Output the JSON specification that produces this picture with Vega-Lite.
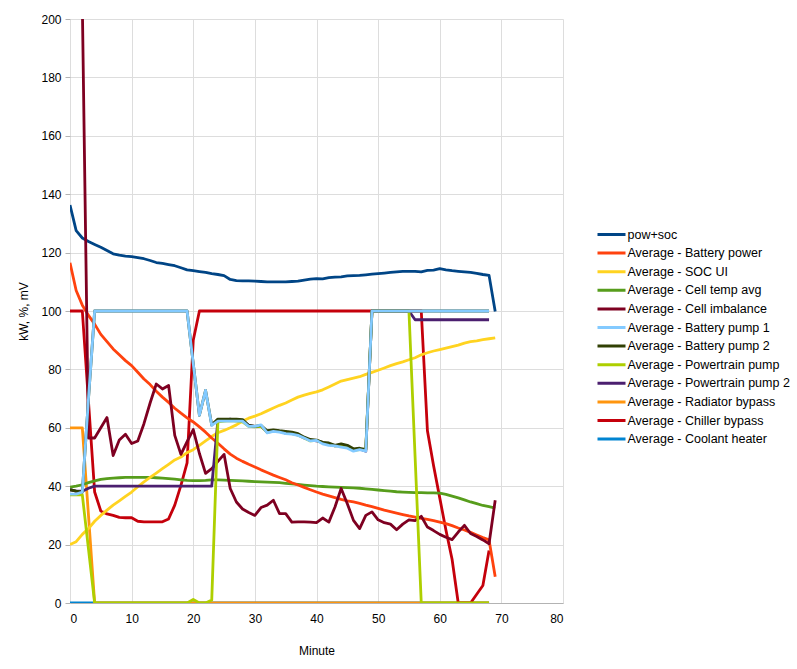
{
  "$schema": "https://vega.github.io/schema/vega-lite/v6.json",
  "width": 493,
  "height": 584,
  "autosize": {"type": "none"},
  "padding": {"left": 70, "top": 19, "right": 234, "bottom": 66},
  "background": "white",
  "data": {
    "values": [
      {"m": 0, "P": 136.3, "BP": 116.5, "SOC": 20, "T": 39.7, "B1": 37.3, "B2": 38.8, "PP": 37, "PP2": 38.8, "R": 60, "C": 100, "H": 0},
      {"m": 1, "P": 127.5, "BP": 107, "SOC": 21, "T": 40, "B1": 37.3, "B2": 38.3, "PP": 37, "PP2": 38.3, "R": 60, "C": 100, "H": 0},
      {"m": 2, "P": 125, "BP": 102, "SOC": 23.5, "T": 40.5, "I": 205, "B1": 38, "B2": 38, "PP": 37, "PP2": 38.3, "R": 60, "C": 100, "H": 0},
      {"m": 3, "P": 123.8, "BP": 98.5, "SOC": 25.5, "T": 41.2, "I": 56.5, "B1": 70, "B2": 70, "PP": 18.5, "PP2": 39.3, "R": 30, "C": 69, "H": 0},
      {"m": 4, "P": 122.8, "BP": 95.5, "SOC": 28, "T": 41.8, "I": 56.5, "B1": 100, "B2": 100, "PP": 0, "PP2": 40, "R": 0, "C": 38, "H": 0},
      {"m": 5, "P": 121.8, "BP": 92, "SOC": 30, "T": 42.3, "I": 60, "B1": 100, "B2": 100, "PP": 0, "PP2": 40, "R": 0, "C": 31.5, "H": 0},
      {"m": 6, "P": 120.7, "BP": 89.5, "SOC": 31.8, "T": 42.6, "I": 63.5, "B1": 100, "B2": 100, "PP": 0, "PP2": 40, "R": 0, "C": 30.5, "H": 0},
      {"m": 7, "P": 119.6, "BP": 87, "SOC": 33.5, "T": 42.8, "I": 50.5, "B1": 100, "B2": 100, "PP": 0, "PP2": 40, "R": 0, "C": 30, "H": 0},
      {"m": 8, "P": 119.1, "BP": 85, "SOC": 35, "T": 42.9, "I": 55.8, "B1": 100, "B2": 100, "PP": 0, "PP2": 40, "R": 0, "C": 29.3, "H": 0},
      {"m": 9, "P": 118.8, "BP": 83, "SOC": 36.5, "T": 43, "I": 57.8, "B1": 100, "B2": 100, "PP": 0, "PP2": 40, "R": 0, "C": 29.2, "H": 0},
      {"m": 10, "P": 118.6, "BP": 81.3, "SOC": 38, "T": 43, "I": 54.6, "B1": 100, "B2": 100, "PP": 0, "PP2": 40, "R": 0, "C": 29.2, "H": 0},
      {"m": 11, "P": 118.3, "BP": 79, "SOC": 39.8, "T": 43, "I": 55.5, "B1": 100, "B2": 100, "PP": 0, "PP2": 40, "R": 0, "C": 28, "H": 0},
      {"m": 12, "P": 117.9, "BP": 76.7, "SOC": 41.5, "T": 43, "I": 61.4, "B1": 100, "B2": 100, "PP": 0, "PP2": 40, "R": 0, "C": 27.8, "H": 0},
      {"m": 13, "P": 117.3, "BP": 74.8, "SOC": 43, "T": 43, "I": 68.5, "B1": 100, "B2": 100, "PP": 0, "PP2": 40, "R": 0, "C": 27.8, "H": 0},
      {"m": 14, "P": 116.6, "BP": 72.5, "SOC": 44.5, "T": 42.9, "I": 75, "B1": 100, "B2": 100, "PP": 0, "PP2": 40, "R": 0, "C": 27.8, "H": 0},
      {"m": 15, "P": 116.3, "BP": 70.5, "SOC": 46, "T": 42.8, "I": 73.3, "B1": 100, "B2": 100, "PP": 0, "PP2": 40, "R": 0, "C": 27.8, "H": 0},
      {"m": 16, "P": 115.9, "BP": 68.7, "SOC": 47.5, "T": 42.6, "I": 74.5, "B1": 100, "B2": 100, "PP": 0, "PP2": 40, "R": 0, "C": 28.8, "H": 0},
      {"m": 17, "P": 115.5, "BP": 66.7, "SOC": 49, "T": 42.4, "I": 57.4, "B1": 100, "B2": 100, "PP": 0, "PP2": 40, "R": 0, "C": 33.5, "H": 0},
      {"m": 18, "P": 114.8, "BP": 65, "SOC": 50, "T": 42.2, "I": 50.9, "B1": 100, "B2": 100, "PP": 0, "PP2": 40, "R": 0, "C": 40.3, "H": 0},
      {"m": 19, "P": 114.1, "BP": 63.4, "SOC": 51.5, "T": 42, "I": 55.3, "B1": 100, "B2": 100, "PP": 0, "PP2": 40, "R": 0, "C": 48, "H": 0},
      {"m": 20, "P": 113.8, "BP": 62, "SOC": 52.5, "T": 41.9, "I": 59.4, "B1": 82, "B2": 82, "PP": 1.2, "PP2": 40, "R": 0, "C": 90, "H": 0},
      {"m": 21, "P": 113.5, "BP": 60.3, "SOC": 54, "T": 41.9, "I": 51.2, "B1": 64.3, "B2": 64.3, "PP": 0, "PP2": 40, "R": 0, "C": 100, "H": 0},
      {"m": 22, "P": 113.2, "BP": 58.5, "SOC": 55.5, "T": 42, "I": 44.4, "B1": 72.8, "B2": 72.8, "PP": 0, "PP2": 40, "R": 0, "C": 100, "H": 0},
      {"m": 23, "P": 112.8, "BP": 56.5, "SOC": 57, "T": 42.2, "I": 46, "B1": 60.8, "B2": 61, "PP": 1, "PP2": 40, "R": 0, "C": 100, "H": 0},
      {"m": 24, "P": 112.5, "BP": 54.7, "SOC": 58.3, "T": 42.2, "I": 48.5, "B1": 62.3, "B2": 63, "PP": 62, "PP2": 62.5, "R": 0, "C": 100, "H": 0},
      {"m": 25, "P": 112.1, "BP": 52.8, "SOC": 59.1, "T": 42.1, "I": 50.9, "B1": 62.3, "B2": 63, "PP": 62.3, "PP2": 62.5, "R": 0, "C": 100, "H": 0},
      {"m": 26, "P": 110.8, "BP": 51, "SOC": 60, "T": 42, "I": 39.2, "B1": 62.3, "B2": 63, "PP": 62.5, "PP2": 63, "R": 0, "C": 100, "H": 0},
      {"m": 27, "P": 110.4, "BP": 49.6, "SOC": 61, "T": 41.9, "I": 34.6, "B1": 62.3, "B2": 63, "PP": 62.3, "PP2": 62.5, "R": 0, "C": 100, "H": 0},
      {"m": 28, "P": 110.3, "BP": 48.5, "SOC": 62.3, "T": 41.8, "I": 32.2, "B1": 62.3, "B2": 62.8, "PP": 62, "PP2": 62.5, "R": 0, "C": 100, "H": 0},
      {"m": 29, "P": 110.3, "BP": 47.5, "SOC": 63.3, "T": 41.7, "I": 31, "B1": 60.5, "B2": 60.8, "PP": 60.5, "PP2": 60.8, "R": 0, "C": 100, "H": 0},
      {"m": 30, "P": 110.2, "BP": 46.6, "SOC": 64, "T": 41.6, "I": 30, "B1": 60.5, "B2": 60.5, "PP": 60.3, "PP2": 60.5, "R": 0, "C": 100, "H": 0},
      {"m": 31, "P": 110.1, "BP": 45.6, "SOC": 64.8, "T": 41.5, "I": 32.7, "B1": 61, "B2": 60.8, "PP": 60.5, "PP2": 60.5, "R": 0, "C": 100, "H": 0},
      {"m": 32, "P": 110, "BP": 44.7, "SOC": 65.8, "T": 41.4, "I": 33.5, "B1": 58.3, "B2": 59, "PP": 58.5, "PP2": 58.5, "R": 0, "C": 100, "H": 0},
      {"m": 33, "P": 110, "BP": 43.8, "SOC": 66.8, "T": 41.3, "I": 35.2, "B1": 58.8, "B2": 59.3, "PP": 58.8, "PP2": 59, "R": 0, "C": 100, "H": 0},
      {"m": 34, "P": 110, "BP": 43, "SOC": 67.7, "T": 41.2, "I": 30.6, "B1": 58.5, "B2": 59, "PP": 58.8, "PP2": 58.8, "R": 0, "C": 100, "H": 0},
      {"m": 35, "P": 110, "BP": 42.2, "SOC": 68.5, "T": 41, "I": 30.6, "B1": 58, "B2": 58.8, "PP": 58.5, "PP2": 58.2, "R": 0, "C": 100, "H": 0},
      {"m": 36, "P": 110.1, "BP": 41.2, "SOC": 69.5, "T": 40.8, "I": 27.7, "B1": 57.8, "B2": 58.5, "PP": 58, "PP2": 58.3, "R": 0, "C": 100, "H": 0},
      {"m": 37, "P": 110.2, "BP": 40.4, "SOC": 70.5, "T": 40.6, "I": 27.8, "B1": 57.4, "B2": 58, "PP": 57.5, "PP2": 57.6, "R": 0, "C": 100, "H": 0},
      {"m": 38, "P": 110.6, "BP": 39.6, "SOC": 71.2, "T": 40.4, "I": 27.8, "B1": 56.5, "B2": 56.8, "PP": 56.5, "PP2": 56.5, "R": 0, "C": 100, "H": 0},
      {"m": 39, "P": 110.9, "BP": 38.8, "SOC": 71.8, "T": 40.2, "I": 27.7, "B1": 55.5, "B2": 56, "PP": 55.5, "PP2": 55.8, "R": 0, "C": 100, "H": 0},
      {"m": 40, "P": 111.1, "BP": 38, "SOC": 72.3, "T": 40, "I": 27.5, "B1": 55.7, "B2": 55.8, "PP": 55.7, "PP2": 55.5, "R": 0, "C": 100, "H": 0},
      {"m": 41, "P": 111, "BP": 37.3, "SOC": 73, "T": 39.9, "I": 29.1, "B1": 54.5, "B2": 55, "PP": 54.8, "PP2": 55, "R": 0, "C": 100, "H": 0},
      {"m": 42, "P": 111.4, "BP": 36.7, "SOC": 74, "T": 39.8, "I": 27.7, "B1": 54, "B2": 54.8, "PP": 54.3, "PP2": 54.3, "R": 0, "C": 100, "H": 0},
      {"m": 43, "P": 111.6, "BP": 36.1, "SOC": 75, "T": 39.7, "I": 32.9, "B1": 53.8, "B2": 54, "PP": 53.8, "PP2": 53.8, "R": 0, "C": 100, "H": 0},
      {"m": 44, "P": 111.7, "BP": 35.5, "SOC": 76, "T": 39.6, "I": 39.2, "B1": 53.4, "B2": 54.5, "PP": 53.8, "PP2": 54, "R": 0, "C": 100, "H": 0},
      {"m": 45, "P": 112, "BP": 35, "SOC": 76.5, "T": 39.5, "I": 34, "B1": 53, "B2": 54, "PP": 53.5, "PP2": 53.6, "R": 0, "C": 100, "H": 0},
      {"m": 46, "P": 112.1, "BP": 34.6, "SOC": 77, "T": 39.4, "I": 28.3, "B1": 52, "B2": 52.8, "PP": 52.3, "PP2": 52.5, "R": 0, "C": 100, "H": 0},
      {"m": 47, "P": 112.2, "BP": 34.1, "SOC": 77.5, "T": 39.3, "I": 25.5, "B1": 52.5, "B2": 53, "PP": 52.5, "PP2": 52.8, "R": 0, "C": 100, "H": 0},
      {"m": 48, "P": 112.4, "BP": 33.5, "SOC": 78.3, "T": 39.1, "I": 30, "B1": 52, "B2": 52.5, "PP": 52.8, "PP2": 52, "R": 0, "C": 100, "H": 0},
      {"m": 49, "P": 112.6, "BP": 33, "SOC": 79, "T": 38.9, "I": 31.2, "B1": 100, "B2": 100, "PP": 100, "PP2": 100, "R": 0, "C": 100, "H": 0},
      {"m": 50, "P": 112.8, "BP": 32.4, "SOC": 79.7, "T": 38.7, "I": 28.5, "B1": 100, "B2": 100, "PP": 100, "PP2": 100, "R": 0, "C": 100, "H": 0},
      {"m": 51, "P": 113, "BP": 31.8, "SOC": 80.5, "T": 38.5, "I": 27.5, "B1": 100, "B2": 100, "PP": 100, "PP2": 100, "R": 0, "C": 100, "H": 0},
      {"m": 52, "P": 113.2, "BP": 31.3, "SOC": 81.3, "T": 38.3, "I": 27, "B1": 100, "B2": 100, "PP": 100, "PP2": 100, "R": 0, "C": 100, "H": 0},
      {"m": 53, "P": 113.4, "BP": 30.8, "SOC": 82, "T": 38.1, "I": 25.1, "B1": 100, "B2": 100, "PP": 100, "PP2": 100, "R": 0, "C": 100, "H": 0},
      {"m": 54, "P": 113.6, "BP": 30.3, "SOC": 82.6, "T": 38, "I": 27, "B1": 100, "B2": 100, "PP": 100, "PP2": 100, "R": 0, "C": 100, "H": 0},
      {"m": 55, "P": 113.6, "BP": 29.8, "SOC": 83.3, "T": 37.9, "I": 28.5, "B1": 100, "B2": 100, "PP": 100, "PP2": 100, "R": 0, "C": 100, "H": 0},
      {"m": 56, "P": 113.6, "BP": 29.4, "SOC": 84, "T": 37.8, "I": 28.2, "B1": 100, "B2": 100, "PP": 50, "PP2": 97, "R": 0, "C": 100, "H": 0},
      {"m": 57, "P": 113.4, "BP": 29, "SOC": 85, "T": 37.8, "I": 29.7, "B1": 100, "B2": 100, "PP": 0, "PP2": 97, "R": 0, "C": 100, "H": 0},
      {"m": 58, "P": 113.9, "BP": 28.6, "SOC": 85.7, "T": 37.7, "I": 26, "B1": 100, "B2": 100, "PP": 0, "PP2": 97, "R": 0, "C": 59, "H": 0},
      {"m": 59, "P": 114, "BP": 28.2, "SOC": 86.3, "T": 37.7, "I": 24.8, "B1": 100, "B2": 100, "PP": 0, "PP2": 97, "R": 0, "C": 47, "H": 0},
      {"m": 60, "P": 114.5, "BP": 27.7, "SOC": 86.8, "T": 37.6, "I": 23.5, "B1": 100, "B2": 100, "PP": 0, "PP2": 97, "R": 0, "C": 36, "H": 0},
      {"m": 61, "P": 114.1, "BP": 27.2, "SOC": 87.3, "T": 37.2, "I": 22.5, "B1": 100, "B2": 100, "PP": 0, "PP2": 97, "R": 0, "C": 25, "H": 0},
      {"m": 62, "P": 113.8, "BP": 26.5, "SOC": 87.8, "T": 36.6, "I": 21.7, "B1": 100, "B2": 100, "PP": 0, "PP2": 97, "R": 0, "C": 15, "H": 0},
      {"m": 63, "P": 113.6, "BP": 25.7, "SOC": 88.3, "T": 36, "I": 24.3, "B1": 100, "B2": 100, "PP": 0, "PP2": 97, "R": 0, "C": 0, "H": 0},
      {"m": 64, "P": 113.4, "BP": 25, "SOC": 89, "T": 35.3, "I": 26.6, "B1": 100, "B2": 100, "PP": 0, "PP2": 97, "R": 0, "C": 0, "H": 0},
      {"m": 65, "P": 113.2, "BP": 24.2, "SOC": 89.5, "T": 34.6, "I": 23.8, "B1": 100, "B2": 100, "PP": 0, "PP2": 97, "R": 0, "C": 0, "H": 0},
      {"m": 66, "P": 112.9, "BP": 23.3, "SOC": 89.8, "T": 34, "I": 22.8, "B1": 100, "B2": 100, "PP": 0, "PP2": 97, "R": 0, "C": 3, "H": 0},
      {"m": 67, "P": 112.5, "BP": 22.4, "SOC": 90.2, "T": 33.4, "I": 21.6, "B1": 100, "B2": 100, "PP": 0, "PP2": 97, "R": 0, "C": 6, "H": 0},
      {"m": 68, "P": 112.2, "BP": 21.6, "SOC": 90.5, "T": 33, "I": 20.3, "B1": 100, "B2": 100, "PP": 0, "PP2": 97, "R": 0, "C": 18, "H": 0},
      {"m": 69, "P": 99.8, "BP": 9, "SOC": 90.8, "T": 32.5, "I": 35.2}
    ]
  },
  "transform": [
    {"fold": ["H", "R", "C", "T", "SOC", "BP", "P", "I", "PP2", "PP", "B2", "B1"], "as": ["k", "v"]},
    {
      "lookup": "k",
      "from": {
        "data": {
          "values": [
            {"k": "P", "name": "pow+soc"},
            {"k": "BP", "name": "Average - Battery power"},
            {"k": "SOC", "name": "Average - SOC UI"},
            {"k": "T", "name": "Average - Cell temp avg"},
            {"k": "I", "name": "Average - Cell imbalance"},
            {"k": "B1", "name": "Average - Battery pump 1"},
            {"k": "B2", "name": "Average - Battery pump 2"},
            {"k": "PP", "name": "Average - Powertrain pump"},
            {"k": "PP2", "name": "Average - Powertrain pump 2"},
            {"k": "R", "name": "Average - Radiator bypass"},
            {"k": "C", "name": "Average - Chiller bypass"},
            {"k": "H", "name": "Average - Coolant heater"}
          ]
        },
        "key": "k",
        "fields": ["name"]
      }
    }
  ],
  "mark": {"type": "line", "clip": true, "strokeWidth": 2.8, "strokeJoin": "round"},
  "encoding": {
    "x": {
      "field": "m",
      "type": "quantitative",
      "scale": {"domain": [0, 80], "nice": false},
      "axis": {
        "title": "Minute",
        "values": [0, 10, 20, 30, 40, 50, 60, 70, 80],
        "grid": true,
        "gridColor": "#dddddd",
        "ticks": false,
        "domainColor": "#b3b3b3",
        "labelPadding": 10,
        "titlePadding": 21
      }
    },
    "y": {
      "field": "v",
      "type": "quantitative",
      "scale": {"domain": [0, 200], "nice": false},
      "axis": {
        "title": "kW, %, mV",
        "values": [0, 20, 40, 60, 80, 100, 120, 140, 160, 180, 200],
        "grid": true,
        "gridColor": "#dddddd",
        "domain": false,
        "tickSize": 5,
        "tickColor": "#b3b3b3",
        "labelPadding": 4,
        "titlePadding": 10
      }
    },
    "color": {
      "field": "name",
      "type": "nominal",
      "scale": {
        "domain": ["pow+soc", "Average - Battery power", "Average - SOC UI", "Average - Cell temp avg", "Average - Cell imbalance", "Average - Battery pump 1", "Average - Battery pump 2", "Average - Powertrain pump", "Average - Powertrain pump 2", "Average - Radiator bypass", "Average - Chiller bypass", "Average - Coolant heater"],
        "range": ["#004586", "#ff420e", "#ffd320", "#579d1c", "#7e0021", "#83caff", "#314004", "#aecf00", "#4b1f6f", "#ff950e", "#c5000b", "#0084d1"]
      },
      "legend": {
        "title": null,
        "orient": "none",
        "legendX": 526,
        "legendY": 206.5,
        "padding": 0,
        "symbolType": "stroke",
        "symbolSize": 784,
        "symbolStrokeWidth": 3,
        "clipHeight": 18,
        "rowPadding": 0.6,
        "labelOffset": 0.5,
        "labelFontSize": 12.5,
        "labelLimit": 400
      }
    }
  },
  "config": {
    "view": {"stroke": null},
    "font": "Liberation Sans",
    "axis": {
      "labelFont": "Liberation Sans",
      "labelFontSize": 12,
      "labelColor": "#000000",
      "titleFont": "Liberation Sans",
      "titleFontSize": 12,
      "titleFontWeight": "normal",
      "titleColor": "#000000"
    },
    "legend": {"labelFont": "Liberation Sans", "labelColor": "#000000"}
  }
}
